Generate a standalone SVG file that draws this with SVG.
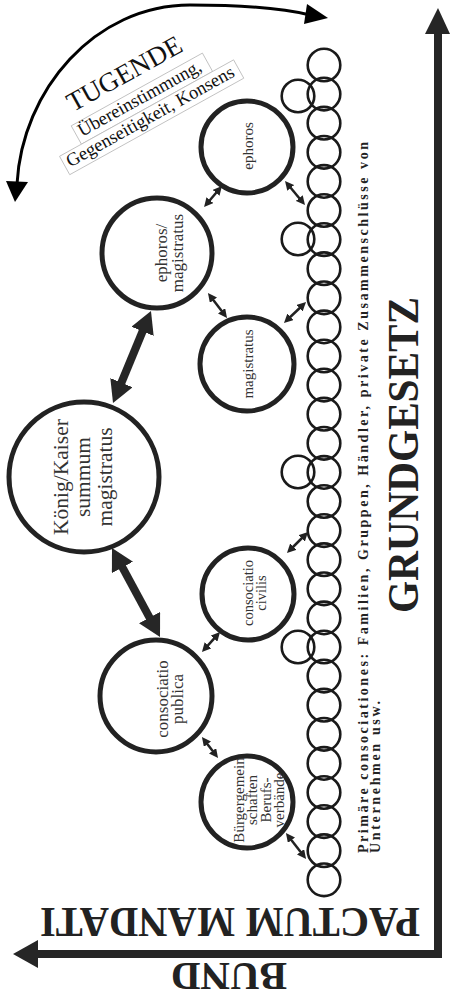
<svg xmlns="http://www.w3.org/2000/svg" width="450" height="999" viewBox="0 0 450 999">
<style>
.big{fill:#fff;stroke:#222;stroke-width:5}
.ch{fill:none;stroke:#1a1a1a;stroke-width:2.6}
.lbl{font-family:"Liberation Serif",serif;fill:#333;text-anchor:middle}
.sa{stroke:#222;stroke-width:2.5;fill:none;marker-start:url(#sh);marker-end:url(#sh)}
.ta{stroke:#262626;stroke-width:8;fill:none;marker-start:url(#th);marker-end:url(#th)}
.bold{font-family:"Liberation Serif",serif;font-weight:bold;fill:#222}
.tg{font-family:"Liberation Serif",serif;fill:#111}
</style>
<defs>
<marker id="sh" markerUnits="userSpaceOnUse" viewBox="0 0 9 9" markerWidth="9" markerHeight="9" refX="4" refY="4.5" orient="auto-start-reverse"><path d="M0,0 L9,4.5 L0,9 z" fill="#222"/></marker>
<marker id="th" markerUnits="userSpaceOnUse" viewBox="0 0 22 24" markerWidth="22" markerHeight="24" refX="10" refY="12" orient="auto-start-reverse"><path d="M0,0 L22,12 L0,24 z" fill="#262626"/></marker>
</defs>

<g id="axes">
<path d="M438,30 L438,954 L36,954" fill="none" stroke="#262626" stroke-width="8"/>
<polygon points="438,8 450,34 425,34" fill="#262626"/>
<polygon points="13,954 38,940 38,968" fill="#262626"/>
</g>

<g id="tugende-arrow">
<path d="M17,184 C22,90 95,5 190,5 C250,5 290,10 310,15" fill="none" stroke="#000" stroke-width="3"/>
<polygon points="15,202 6,181 28,182" fill="#000"/>
<polygon points="328,18 307,4 304,24" fill="#000"/>
</g>

<g id="tugende" transform="translate(82,137) rotate(-29)">
<rect x="-4" y="-15" width="150" height="21" fill="#fff" stroke="#bbb" stroke-width="0.8"/>
<rect x="-29" y="6" width="199" height="21" fill="#fff" stroke="#bbb" stroke-width="0.8"/>
<text class="tg" x="4" y="-26" font-size="27">TUGENDE</text>
<text class="tg" x="0" y="0" font-size="18.5">Übereinstimmung,</text>
<text class="tg" x="-25" y="21" font-size="18.5">Gegenseitigkeit, Konsens</text>
</g>

<g id="chain">
<circle class="ch" cx="324" cy="65" r="16.3"/>
<circle class="ch" cx="324" cy="94.1" r="16.3"/>
<circle class="ch" cx="324" cy="123.2" r="16.3"/>
<circle class="ch" cx="324" cy="152.3" r="16.3"/>
<circle class="ch" cx="324" cy="181.4" r="16.3"/>
<circle class="ch" cx="324" cy="210.5" r="16.3"/>
<circle class="ch" cx="324" cy="239.6" r="16.3"/>
<circle class="ch" cx="324" cy="268.7" r="16.3"/>
<circle class="ch" cx="324" cy="297.8" r="16.3"/>
<circle class="ch" cx="324" cy="326.9" r="16.3"/>
<circle class="ch" cx="324" cy="356" r="16.3"/>
<circle class="ch" cx="324" cy="385.1" r="16.3"/>
<circle class="ch" cx="324" cy="414.2" r="16.3"/>
<circle class="ch" cx="324" cy="443.3" r="16.3"/>
<circle class="ch" cx="324" cy="472.4" r="16.3"/>
<circle class="ch" cx="324" cy="501.5" r="16.3"/>
<circle class="ch" cx="324" cy="530.6" r="16.3"/>
<circle class="ch" cx="324" cy="559.7" r="16.3"/>
<circle class="ch" cx="324" cy="588.8" r="16.3"/>
<circle class="ch" cx="324" cy="617.9" r="16.3"/>
<circle class="ch" cx="324" cy="647" r="16.3"/>
<circle class="ch" cx="324" cy="676.1" r="16.3"/>
<circle class="ch" cx="324" cy="705.2" r="16.3"/>
<circle class="ch" cx="324" cy="734.3" r="16.3"/>
<circle class="ch" cx="324" cy="763.4" r="16.3"/>
<circle class="ch" cx="324" cy="792.5" r="16.3"/>
<circle class="ch" cx="324" cy="821.6" r="16.3"/>
<circle class="ch" cx="324" cy="850.7" r="16.3"/>
<circle class="ch" cx="324" cy="879.8" r="16.3"/>
<circle class="ch" cx="298" cy="96" r="16.3"/>
<circle class="ch" cx="298" cy="239" r="16.3"/>
<circle class="ch" cx="298" cy="472" r="16.3"/>
<circle class="ch" cx="298" cy="647" r="16.3"/>
</g>

<g id="connectors">
<line class="sa" x1="218.7" y1="189.8" x2="207.3" y2="203.2"/>
<line class="sa" x1="288.2" y1="184.8" x2="301.8" y2="201.2"/>
<line class="sa" x1="211" y1="297" x2="224" y2="314"/>
<line class="sa" x1="287.6" y1="319.5" x2="302.4" y2="305.5"/>
<line class="sa" x1="290.5" y1="549.5" x2="304.5" y2="535.5"/>
<line class="sa" x1="216.7" y1="635.7" x2="205.3" y2="648.3"/>
<line class="sa" x1="205" y1="741" x2="215" y2="754"/>
<line class="sa" x1="289" y1="837" x2="303" y2="855"/>
<line class="ta" x1="146.4" y1="322.1" x2="117.6" y2="391.9"/>
<line class="ta" x1="117.7" y1="558.6" x2="154.3" y2="626.4"/>
</g>

<g id="ephoros">
<circle class="big" cx="247" cy="147" r="46"/>
<text class="lbl" font-size="15" transform="translate(253,146) rotate(-90)">ephoros</text>
</g>

<g id="ephoros-magistratus">
<circle class="big" cx="157" cy="253" r="55"/>
<text class="lbl" font-size="17" transform="translate(167,253) rotate(-90)"><tspan x="0" y="0">ephoros/</tspan><tspan x="0" y="15.5">magistratus</tspan></text>
</g>

<g id="magistratus">
<circle class="big" cx="247" cy="364" r="47"/>
<text class="lbl" font-size="15" transform="translate(253,364) rotate(-90)">magistratus</text>
</g>

<g id="koenig">
<circle class="big" cx="84" cy="477" r="75"/>
<text class="lbl" font-size="21.5" transform="translate(68,477) rotate(-90)"><tspan x="0" y="0">König/Kaiser</tspan><tspan x="0" y="22">summum</tspan><tspan x="0" y="44">magistratus</tspan></text>
</g>

<g id="consociatio-civilis">
<circle class="big" cx="248" cy="594" r="46"/>
<text class="lbl" font-size="14.5" transform="translate(253,593) rotate(-90)"><tspan x="0" y="0">consociatio</tspan><tspan x="0" y="12.5">civilis</tspan></text>
</g>

<g id="consociatio-publica">
<circle class="big" cx="156" cy="696" r="56"/>
<text class="lbl" font-size="17" transform="translate(168,699) rotate(-90)"><tspan x="0" y="0">consociatio</tspan><tspan x="0" y="14.5">publica</tspan></text>
</g>

<g id="buergergemeinschaften">
<circle class="big" cx="247" cy="802" r="46"/>
<text class="lbl" font-size="15" transform="translate(244,800) rotate(-90)"><tspan x="0" y="0">Bürgergemein</tspan><tspan x="0" y="13">schaften</tspan><tspan x="0" y="27">Berufs-</tspan><tspan x="0" y="40">verbände</tspan></text>
</g>

<g id="texts">
<text class="bold" font-size="14" transform="translate(368,853) rotate(-90)" textLength="711" lengthAdjust="spacing">Primäre consociationes: Familien, Gruppen, Händler, private Zusammenschlüsse von</text>
<text class="bold" font-size="14" transform="translate(380,853) rotate(-90)" textLength="152" lengthAdjust="spacing">Unternehmen usw.</text>
<text class="bold" font-size="45" transform="translate(418,613) rotate(-90)" textLength="316" lengthAdjust="spacingAndGlyphs">GRUNDGESETZ</text>
<text class="bold" font-size="43" transform="translate(420,908) rotate(180)" textLength="380" lengthAdjust="spacingAndGlyphs">PACTUM MANDATI</text>
<text class="bold" font-size="41" transform="translate(287,963) rotate(180)">BUND</text>
</g>
</svg>
